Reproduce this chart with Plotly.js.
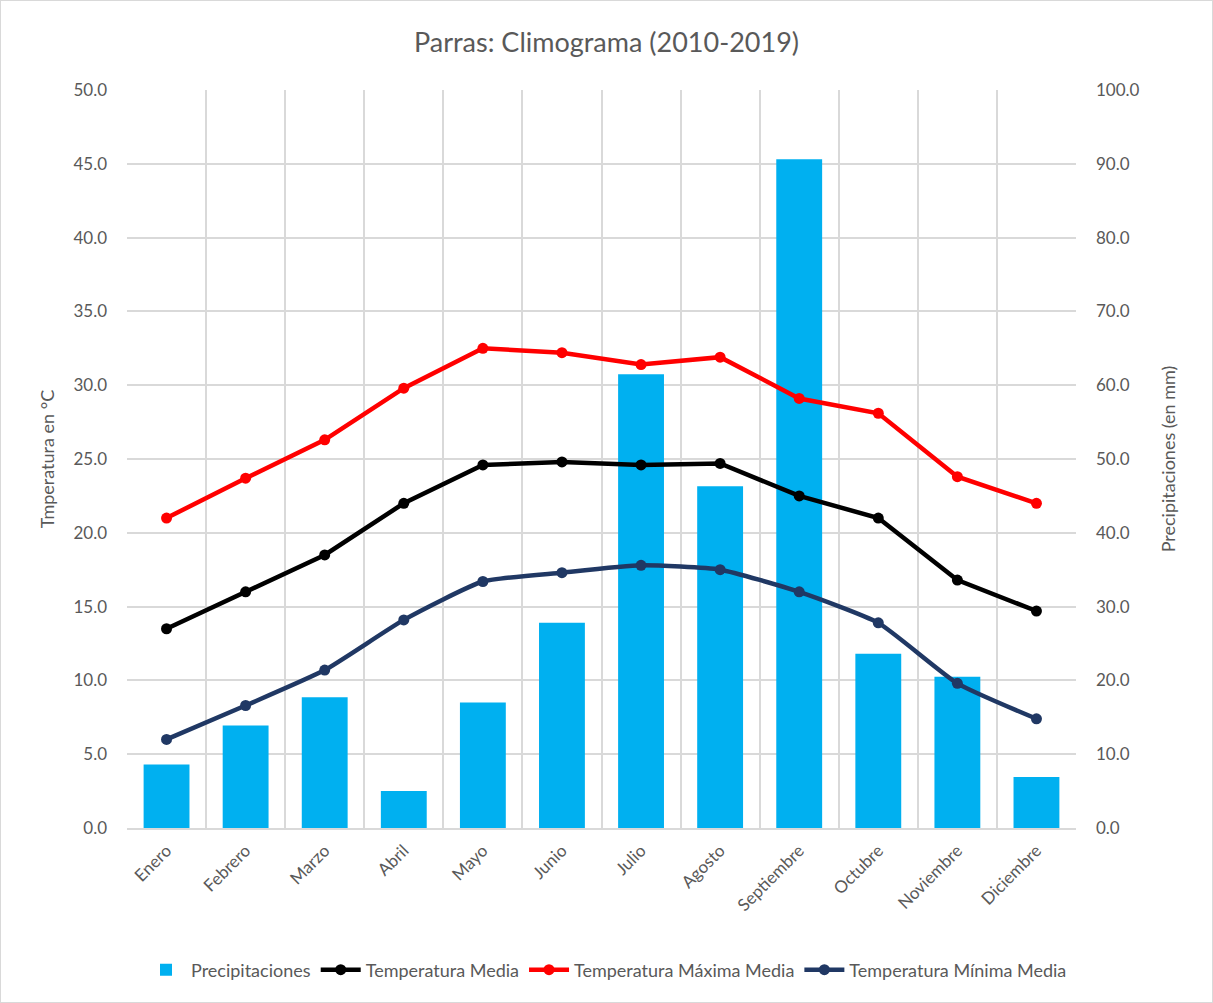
<!DOCTYPE html>
<html><head><meta charset="utf-8">
<script src="https://cdn.plot.ly/plotly-3.0.1.min.js"></script>
<style>html,body{margin:0;padding:0;background:#fff}#chart{width:1213px;height:1003px;box-sizing:border-box;border:1px solid #d9d9d9}</style>
</head><body><div id="chart"></div>
<script>
const meses = ["Enero","Febrero","Marzo","Abril","Mayo","Junio","Julio","Agosto","Septiembre","Octubre","Noviembre","Diciembre"];
const precipitaciones = [8.6, 13.9, 17.7, 5.0, 17.0, 27.8, 61.5, 46.3, 90.6, 23.6, 20.5, 6.9];
const tempMedia = [13.5, 16.0, 18.5, 22.0, 24.6, 24.8, 24.6, 24.7, 22.5, 21.0, 16.8, 14.7];
const tempMax = [21.0, 23.7, 26.3, 29.8, 32.5, 32.2, 31.4, 31.9, 29.1, 28.1, 23.8, 22.0];
const tempMin = [6.0, 8.3, 10.7, 14.1, 16.7, 17.3, 17.8, 17.5, 16.0, 13.9, 9.8, 7.4];

const font = "Lato, 'Open Sans', sans-serif";
const grey = "#595959";
const traces = [
  {type:"bar", name:"Precipitaciones", x:meses, y:precipitaciones, yaxis:"y",
   marker:{color:"#00b0f0"}, width:0.58},
  {type:"scatter", mode:"lines+markers", name:"Temperatura Media", x:meses, y:tempMedia, yaxis:"y2",
   line:{color:"#000000", width:4.5}, marker:{color:"#000000", size:11}},
  {type:"scatter", mode:"lines+markers", name:"Temperatura Máxima Media", x:meses, y:tempMax, yaxis:"y2",
   line:{color:"#ff0000", width:4.5}, marker:{color:"#ff0000", size:11}},
  {type:"scatter", mode:"lines+markers", name:"Temperatura Mínima Media", x:meses, y:tempMin, yaxis:"y2",
   line:{color:"#203864", width:4.5, shape:"spline", smoothing:0.5}, marker:{color:"#203864", size:11}}
];
const layout = {
  width:1211, height:1001,
  margin:{l:126, r:136, t:89, b:174},
  paper_bgcolor:"#fff", plot_bgcolor:"#fff",
  font:{family:font, color:grey, size:16},
  title:{text:"Parras: Climograma (2010-2019)", font:{size:27, color:grey}, x:0.5, xanchor:"center", y:0.958, yanchor:"middle", automargin:false},
  showlegend:true,
  legend:{orientation:"h", xref:"container", yref:"container", x:0.5, xanchor:"center", y:0.032, yanchor:"middle",
    font:{size:18, color:grey}, traceorder:"normal", itemwidth:40},
  bargap:0.42,
  xaxis:{type:"category", range:[-0.5, 11.5], tickangle:-45, tickson:"boundaries", showgrid:true, gridcolor:"#d9d9d9", gridwidth:2,
    showline:true, linecolor:"#d9d9d9", linewidth:2, ticks:"", tickfont:{size:17, color:grey}, automargin:false, ticklabelstandoff:4},
  yaxis:{range:[0,100], dtick:10, tickformat:".1f", side:"right", showgrid:true, gridcolor:"#d9d9d9", gridwidth:2, zeroline:false,
    ticks:"", tickfont:{size:17, color:grey}, ticklabelstandoff:19, automargin:false,
    title:{text:"Precipitaciones (en mm)", font:{size:18, color:grey}, standoff:23}},
  yaxis2:{range:[0,50], dtick:5, tickformat:".1f", overlaying:"y", side:"left", showgrid:false, zeroline:false,
    ticks:"", tickfont:{size:17, color:grey}, ticklabelstandoff:19, automargin:false,
    title:{text:"Tmperatura en °C", font:{size:18, color:grey}, standoff:14}}
};
Plotly.newPlot("chart", traces, layout, {displayModeBar:false, staticPlot:true});
</script></body></html>
